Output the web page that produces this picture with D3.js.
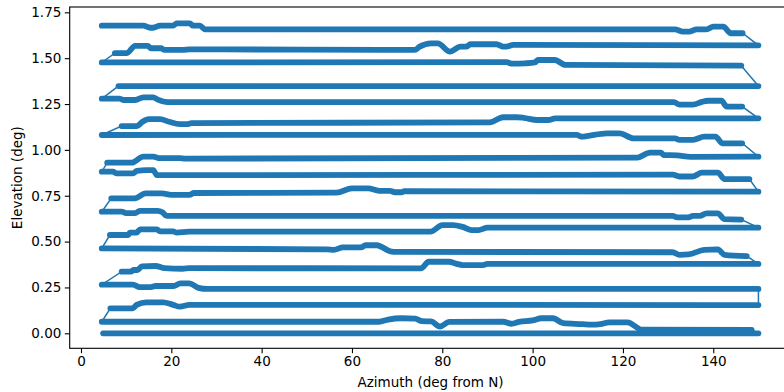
<!DOCTYPE html>
<html>
<head>
<meta charset="utf-8">
<script src="https://cdn.jsdelivr.net/npm/d3@7"></script>
<style>
  body { margin: 0; background: #fff; }
  svg { display: block; font-family: "DejaVu Sans", sans-serif; }
</style>
</head>
<body>
<div class="viz"></div>
<script>
// Scan rows, each listed left -> right as [azimuth, elevation]
// even rows are swept left->right, odd rows right->left
const row00 = [[4.9,0.0],[150,0.0]];
const row01 = [[4.6,0.063],[66,0.063],[68,0.075],[71,0.082],[74,0.08],[75.5,0.066],[77.5,0.065],[79.5,0.037],[81.5,0.062],[93.5,0.063],[95.3,0.052],[97,0.062],[100,0.07],[102,0.082],[104.5,0.082],[106.8,0.055],[111,0.05],[113,0.047],[115,0.05],[117,0.06],[121,0.06],[124.2,0.02],[148.5,0.018]];
const row02 = [[6.5,0.136],[11.5,0.136],[12.3,0.155],[14.5,0.169],[18.2,0.169],[20.4,0.155],[21.9,0.145],[24,0.155],[150,0.154]];
const row03 = [[4.6,0.265],[11.5,0.265],[13,0.252],[15.5,0.252],[16.5,0.258],[20.5,0.258],[22,0.272],[24,0.272],[26,0.248],[28,0.242],[150,0.242]];
const row04 = [[9,0.336],[11,0.336],[11.7,0.345],[12.5,0.345],[13.5,0.365],[16.5,0.367],[18.5,0.355],[22.5,0.352],[24,0.355],[75.3,0.354],[77,0.39],[81.5,0.39],[83,0.38],[84.5,0.372],[89,0.372],[90,0.378],[150,0.378]];
const row05 = [[4.6,0.463],[54.5,0.458],[56,0.455],[58,0.468],[62,0.468],[63,0.48],[65.5,0.48],[68.5,0.447],[70,0.444],[131,0.442],[132.5,0.428],[134.5,0.43],[138,0.455],[141,0.458],[142.5,0.428],[147.4,0.421]];
const row06 = [[6.4,0.536],[10.5,0.536],[10.8,0.549],[12.3,0.549],[13.1,0.567],[16.8,0.567],[17.5,0.556],[20.4,0.556],[21.2,0.549],[24,0.554],[77.4,0.554],[80,0.59],[82.4,0.59],[84.5,0.58],[86.5,0.563],[88,0.563],[90,0.576],[150,0.576]];
const row07 = [[4.6,0.663],[9,0.663],[10,0.655],[12,0.655],[13,0.668],[17,0.668],[18,0.66],[19,0.64],[131,0.64],[132,0.632],[134.5,0.632],[135.5,0.64],[137,0.64],[138.5,0.654],[141,0.654],[142.5,0.622],[146.2,0.62]];
const row08 = [[6.7,0.736],[11.9,0.736],[14.3,0.763],[17.9,0.763],[20,0.755],[24,0.755],[25,0.765],[56.6,0.767],[60,0.79],[63.6,0.79],[66,0.777],[68.4,0.777],[69.5,0.769],[71,0.769],[71.6,0.775],[150,0.772]];
const row09 = [[4.6,0.881],[7.1,0.881],[7.8,0.872],[11.5,0.872],[12.4,0.886],[14.5,0.89],[16,0.89],[16.8,0.862],[131,0.865],[132.5,0.855],[135.5,0.855],[137.5,0.876],[141,0.876],[142.5,0.841],[148,0.841]];
const row10 = [[5.8,0.93],[11.2,0.93],[13.8,0.963],[16,0.963],[17.5,0.955],[21.9,0.955],[23,0.952],[123.2,0.958],[126,0.985],[128.4,0.985],[129,0.972],[132,0.97],[135,0.962],[150,0.963]];
const row11 = [[4.6,1.081],[109.7,1.082],[111,1.072],[112,1.075],[116.4,1.09],[119.3,1.09],[122.3,1.063],[131.5,1.063],[132.5,1.055],[135.5,1.055],[138,1.072],[140.5,1.072],[142,1.036],[146.4,1.036]];
const row12 = [[9,1.13],[12.4,1.13],[13.6,1.153],[15,1.168],[17.5,1.168],[19.5,1.153],[21.9,1.14],[23.4,1.14],[24.5,1.146],[90.5,1.15],[93.5,1.178],[96.4,1.178],[98,1.175],[101,1.163],[103.5,1.163],[105,1.172],[150,1.172]];
const row13 = [[4.6,1.279],[8.5,1.279],[9.5,1.272],[12,1.272],[13.8,1.286],[16,1.286],[17,1.274],[19.2,1.26],[131.3,1.26],[132.5,1.247],[135.5,1.247],[137.5,1.262],[138.8,1.268],[141.8,1.268],[143,1.236],[146.4,1.236]];
const row14 = [[8.3,1.348],[150,1.348]];
const row15 = [[4.6,1.477],[94.2,1.478],[95.5,1.47],[98.3,1.472],[100.5,1.477],[101.2,1.49],[104.9,1.49],[107.3,1.463],[146.2,1.459]];
const row16 = [[7.5,1.527],[10.1,1.527],[12,1.567],[14.8,1.567],[15.5,1.554],[17.7,1.554],[18.5,1.545],[22.6,1.545],[24,1.548],[73.9,1.545],[75,1.563],[77.5,1.581],[79,1.581],[81.7,1.536],[84,1.563],[85.4,1.563],[86.2,1.576],[92,1.576],[93.5,1.563],[94.2,1.563],[95.7,1.572],[150,1.57]];
const row17 = [[4.6,1.677],[13.8,1.677],[15.3,1.666],[16,1.666],[17.5,1.677],[20.4,1.677],[21.2,1.69],[24.1,1.69],[24.8,1.677],[26.3,1.677],[27.5,1.657],[131.5,1.657],[133.3,1.645],[134.8,1.645],[136.3,1.657],[138.5,1.657],[140,1.672],[142.2,1.672],[143.9,1.636],[146.5,1.636]];

const scanRows = [row00, row01, row02, row03, row04, row05, row06, row07, row08,
                  row09, row10, row11, row12, row13, row14, row15, row16, row17];

const xTicks = [0, 20, 40, 60, 80, 100, 120, 140];
const yTicks = [0, 0.25, 0.5, 0.75, 1.0, 1.25, 1.5, 1.75];

const width = 784, height = 392;
const axLeft = 69.7, axRight = 791.4, axTop = 7, axBottom = 348.3;

const svg = d3.select(".viz").append("svg")
    .attr("width", width)
    .attr("height", height);

const x = d3.scaleLinear().domain([-2.5, 157.3]).range([axLeft, axRight]);
const y = d3.scaleLinear().domain([-0.0818, 1.779]).range([axBottom, axTop]);

svg.append("defs").append("clipPath").attr("id", "plot-clip")
    .append("rect")
    .attr("x", axLeft).attr("y", axTop)
    .attr("width", axRight - axLeft).attr("height", axBottom - axTop);

// path order: alternate sweep direction
const ordered = scanRows.map((r, i) => i % 2 === 0 ? r : r.slice().reverse());
const fullPath = ordered.flat();

const line = d3.line().x(d => x(d[0])).y(d => y(d[1]));
const smooth = d3.line().x(d => x(d[0])).y(d => y(d[1])).curve(d3.curveMonotoneX);
const g = svg.append("g").attr("clip-path", "url(#plot-clip)");

// thin connecting line through all samples
g.append("path")
    .datum(fullPath)
    .attr("d", line)
    .attr("fill", "none")
    .attr("stroke", "#1f77b4")
    .attr("stroke-width", 1.5);

// dense markers along each row
g.selectAll("path.row")
    .data(scanRows)
    .enter().append("path")
    .attr("class", "row")
    .attr("d", smooth)
    .attr("fill", "none")
    .attr("stroke", "#1f77b4")
    .attr("stroke-width", 5.8)
    .attr("stroke-linecap", "round")
    .attr("stroke-linejoin", "round");

// axes
const xAxis = d3.axisBottom(x).tickValues(xTicks).tickFormat(d3.format("d"))
    .tickSize(4.9).tickPadding(3.5).tickSizeOuter(0);
const yAxis = d3.axisLeft(y).tickValues(yTicks).tickFormat(d3.format(".2f"))
    .tickSize(4.9).tickPadding(3.5).tickSizeOuter(0);

const gx = svg.append("g").attr("transform", `translate(0, ${axBottom})`).call(xAxis);
const gy = svg.append("g").attr("transform", `translate(${axLeft}, 0)`).call(yAxis);

[gx, gy].forEach(a => {
    a.select(".domain").remove();
    a.selectAll(".tick line").attr("stroke", "#000").attr("stroke-width", 1.1);
    a.selectAll(".tick text").attr("fill", "#000").style("font-size", "13.5px")
        .style("font-family", "DejaVu Sans");
});

// spines
svg.append("rect")
    .attr("x", axLeft).attr("y", axTop)
    .attr("width", axRight - axLeft).attr("height", axBottom - axTop)
    .attr("fill", "none")
    .attr("stroke", "#000")
    .attr("stroke-width", 1.1);

svg.append("text")
    .attr("x", (axLeft + axRight) / 2)
    .attr("y", 387)
    .attr("text-anchor", "middle")
    .style("font-size", "13.5px")
    .text("Azimuth (deg from N)");

svg.append("text")
    .attr("transform", `translate(22, ${(axTop + axBottom) / 2}) rotate(-90)`)
    .attr("text-anchor", "middle")
    .style("font-size", "13.5px")
    .text("Elevation (deg)");
</script>
</body>
</html>
